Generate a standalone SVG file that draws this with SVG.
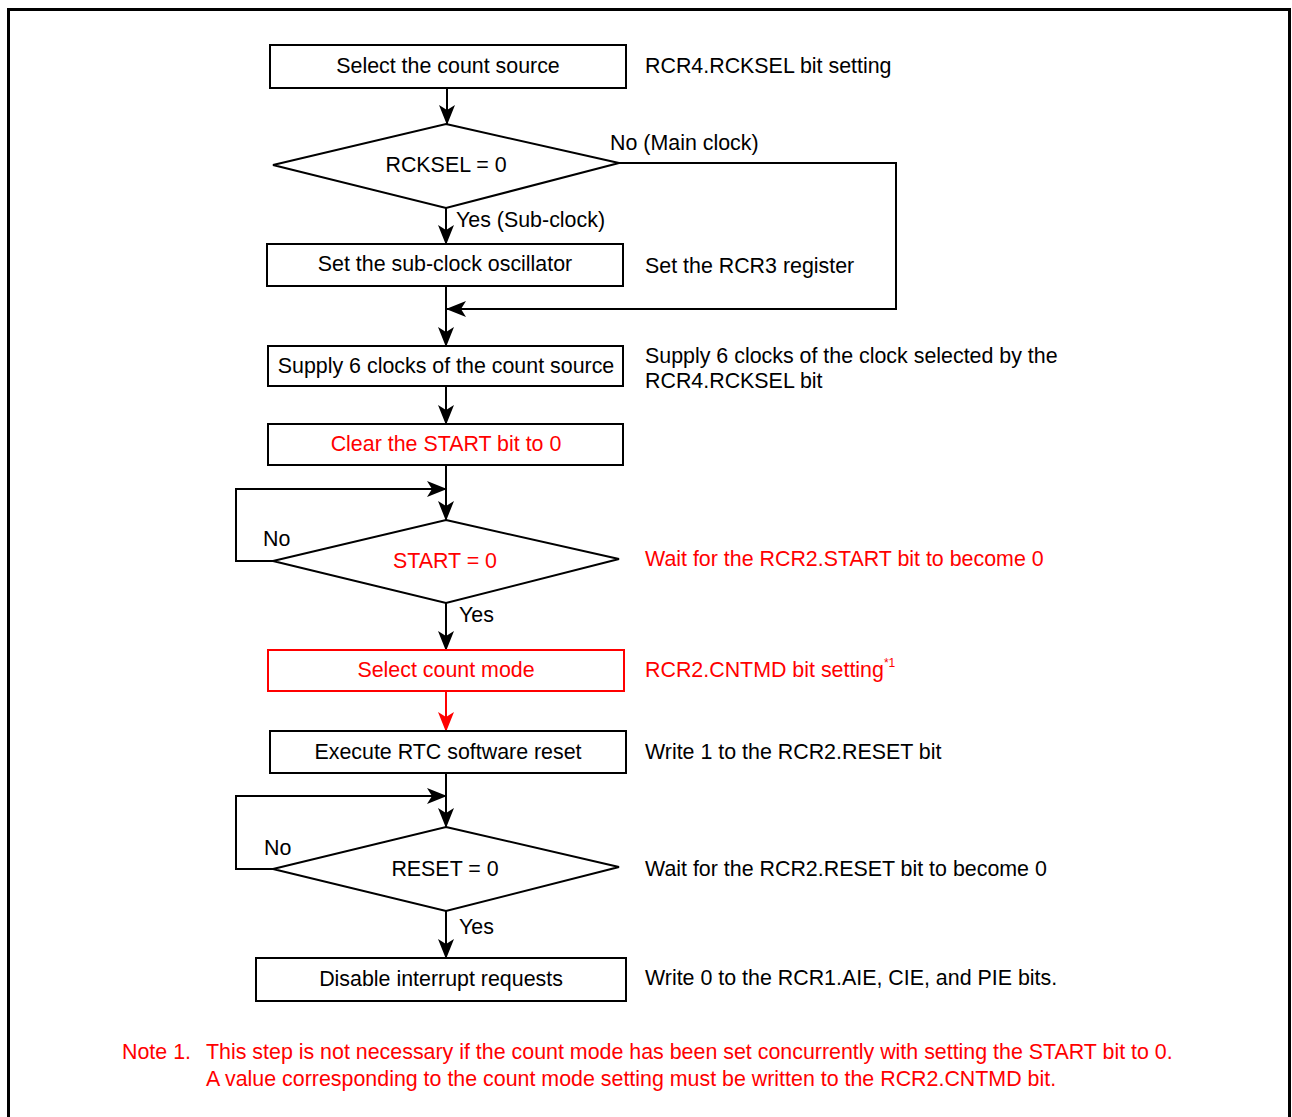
<svg xmlns="http://www.w3.org/2000/svg" width="1292" height="1117" viewBox="0 0 1292 1117">
<defs>
<marker id="ah" viewBox="0 0 20 16" refX="19" refY="8" markerWidth="20" markerHeight="16" markerUnits="userSpaceOnUse" orient="auto">
<path d="M0,0 L20,8 L0,16 L5,8 Z" fill="#000"/>
</marker>
<marker id="ahr" viewBox="0 0 20 16" refX="19" refY="8" markerWidth="20" markerHeight="16" markerUnits="userSpaceOnUse" orient="auto">
<path d="M0,0 L20,8 L0,16 L5,8 Z" fill="#f00"/>
</marker>
</defs>
<style>
text{font-family:"Liberation Sans",Arial,sans-serif;font-size:21.4px;fill:#000}
.c{text-anchor:middle}
.r{fill:#f00}
.box{fill:#fff;stroke:#000;stroke-width:2}
.rbox{fill:#fff;stroke:#f00;stroke-width:2}
.ln{fill:none;stroke:#000;stroke-width:2}
</style>
<rect x="0" y="0" width="1292" height="1117" fill="#fff"/>
<path d="M8.5,1120 V9.5 H1289.5 V1120" fill="none" stroke="#000" stroke-width="3"/>
<g id="connectors">
<line class="ln" x1="447" y1="88" x2="447" y2="124" marker-end="url(#ah)"/>
<polyline class="ln" points="619,163 896,163 896,309 447,309" marker-end="url(#ah)"/>
<line class="ln" x1="446" y1="208" x2="446" y2="244" marker-end="url(#ah)"/>
<line class="ln" x1="446" y1="286" x2="446" y2="346" marker-end="url(#ah)"/>
<line class="ln" x1="446" y1="386" x2="446" y2="424" marker-end="url(#ah)"/>
<line class="ln" x1="446" y1="465" x2="446" y2="520" marker-end="url(#ah)"/>
<polyline class="ln" points="273,561 236,561 236,489 446,489" marker-end="url(#ah)"/>
<line class="ln" x1="446" y1="603" x2="446" y2="650" marker-end="url(#ah)"/>
<line x1="446" y1="691" x2="446" y2="731" stroke="#f00" stroke-width="2" marker-end="url(#ahr)"/>
<line class="ln" x1="446" y1="773" x2="446" y2="827" marker-end="url(#ah)"/>
<polyline class="ln" points="273,869 236,869 236,796 446,796" marker-end="url(#ah)"/>
<line class="ln" x1="446" y1="911" x2="446" y2="958" marker-end="url(#ah)"/>
</g>
<g id="n1"><rect class="box" x="270" y="45" width="356" height="43"/><text class="c" x="448" y="73">Select the count source</text></g>
<g id="n1t"><text x="645" y="73">RCR4.RCKSEL bit setting</text></g>
<g id="d1"><polygon class="box" points="446,124 619,163 446,208 273,165"/><text class="c" x="446" y="172">RCKSEL = 0</text><text x="610" y="150">No (Main clock)</text><text x="456" y="227">Yes (Sub-clock)</text></g>
<g id="n2"><rect class="box" x="267" y="244" width="356" height="42"/><text class="c" x="445" y="271">Set the sub-clock oscillator</text><text x="645" y="273">Set the RCR3 register</text></g>
<g id="n3"><rect class="box" x="268" y="346" width="355" height="40"/><text class="c" x="446" y="373">Supply 6 clocks of the count source</text><text x="645" y="363">Supply 6 clocks of the clock selected by the</text><text x="645" y="388">RCR4.RCKSEL bit</text></g>
<g id="n4"><rect class="box" x="268" y="424" width="355" height="41"/><text class="c r" x="446" y="451">Clear the START bit to 0</text></g>
<g id="d2"><polygon class="box" points="446,520 619,559 446,603 273,561"/><text class="c r" x="445" y="568">START = 0</text><text x="263" y="546">No</text><text x="459" y="622">Yes</text><text class="r" x="645" y="566">Wait for the RCR2.START bit to become 0</text></g>
<g id="n5"><rect class="rbox" x="268" y="650" width="356" height="41"/><text class="c r" x="446" y="677">Select count mode</text><text class="r" x="645" y="677">RCR2.CNTMD bit setting<tspan font-size="12" dy="-10">*1</tspan></text></g>
<g id="n6"><rect class="box" x="270" y="731" width="356" height="42"/><text class="c" x="448" y="759">Execute RTC software reset</text><text x="645" y="759">Write 1 to the RCR2.RESET bit</text></g>
<g id="d3"><polygon class="box" points="446,827 619,867 446,911 273,869"/><text class="c" x="445" y="876">RESET = 0</text><text x="264" y="855">No</text><text x="459" y="934">Yes</text><text x="645" y="876">Wait for the RCR2.RESET bit to become 0</text></g>
<g id="n7"><rect class="box" x="256" y="958" width="370" height="43"/><text class="c" x="441" y="986">Disable interrupt requests</text><text x="645" y="985">Write 0 to the RCR1.AIE, CIE, and PIE bits.</text></g>
<g id="note"><text class="r" x="122" y="1059">Note 1.</text><text class="r" x="206" y="1059">This step is not necessary if the count mode has been set concurrently with setting the START bit to 0.</text><text class="r" x="206" y="1086">A value corresponding to the count mode setting must be written to the RCR2.CNTMD bit.</text></g>
</svg>
